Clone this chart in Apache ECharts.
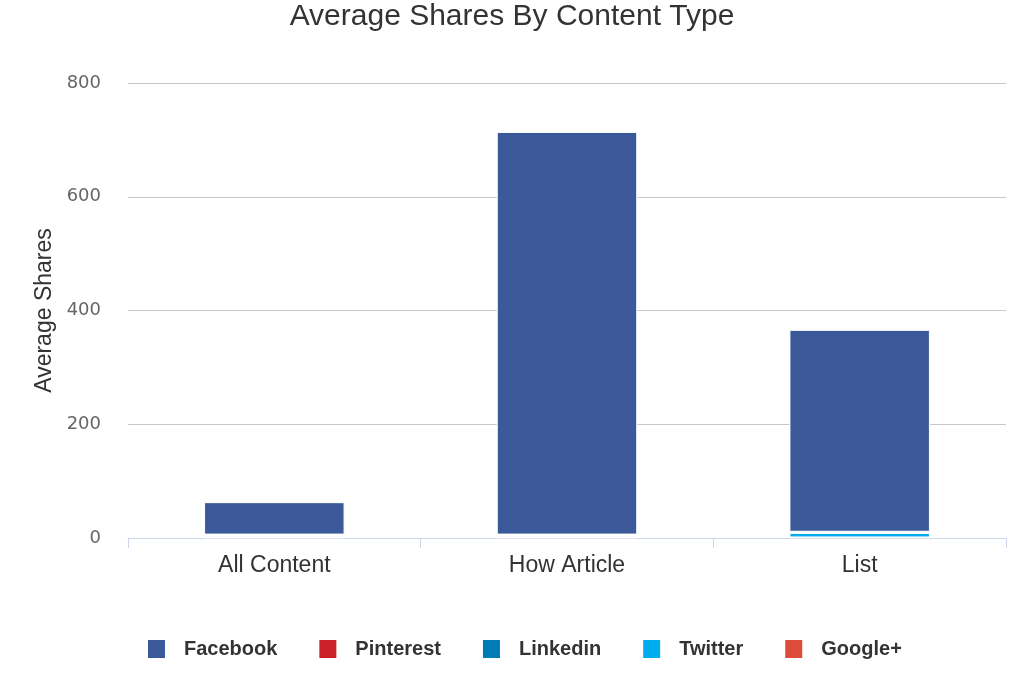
<!DOCTYPE html>
<html>
<head>
<meta charset="utf-8">
<script src="https://cdn.jsdelivr.net/npm/echarts@6/dist/echarts.min.js"></script>
<style>
html, body { margin: 0; padding: 0; background: #fff; }
#chart { width: 1024px; height: 683px; }
</style>
</head>
<body>
<div id="chart"></div>
<script>
// data
var categories = ['All Content', 'How Article', 'List'];
var facebook = [57, 708, 355];
var pinterest = [1, 1, 1];
var linkedin = [2, 2, 1];
var twitter = [2, 2, 8];
var googlePlus = [1, 1, 1];
var yTicks = [0, 200, 400, 600, 800];

var seriesColors = {
    'Facebook': '#3b5998',
    'Pinterest': '#cb2027',
    'Linkedin': '#007bb6',
    'Twitter': '#00aced',
    'Google+': '#dd4b39'
};

function bar(name, data) {
    return {
        name: name,
        type: 'bar',
        stack: 'shares',
        barWidth: '48%',
        data: data,
        itemStyle: {
            color: seriesColors[name],
            borderColor: '#fff',
            borderWidth: 1
        }
    };
}

var option = {
    backgroundColor: '#fff',
    animation: false,
    title: {
        text: 'Average Shares By Content Type',
        left: 'center',
        top: -3,
        textStyle: {
            fontFamily: 'Liberation Sans',
            fontSize: 30,
            fontWeight: 'normal',
            color: '#333'
        }
    },
    legend: {
        data: ['Facebook', 'Pinterest', 'Linkedin', 'Twitter', 'Google+'],
        bottom: 18,
        left: 141,
        itemWidth: 19,
        itemHeight: 20,
        itemGap: 40,
        icon: 'rect',
        textStyle: {
            fontFamily: 'Liberation Sans',
            fontSize: 20,
            fontWeight: 'bold',
            color: '#333',
            padding: [0, 0, 0, 13]
        }
    },
    grid: {
        left: 128,
        right: 18,
        top: 83,
        bottom: 145
    },
    xAxis: {
        type: 'category',
        data: categories,
        axisLine: { lineStyle: { color: '#ccd6eb' } },
        axisTick: { show: true, length: 10, lineStyle: { color: '#ccd6eb' } },
        axisLabel: {
            fontFamily: 'Liberation Sans',
            fontSize: 23,
            color: '#333',
            margin: 16
        }
    },
    yAxis: {
        type: 'value',
        min: yTicks[0],
        max: yTicks[yTicks.length - 1],
        interval: 200,
        name: 'Average Shares',
        nameLocation: 'middle',
        nameGap: 72,
        nameTextStyle: {
            fontFamily: 'Liberation Sans',
            fontSize: 23,
            color: '#333'
        },
        axisLine: { show: false },
        axisTick: { show: false },
        axisLabel: {
            fontFamily: 'DejaVu Sans',
            fontSize: 18,
            color: '#666',
            margin: 27
        },
        splitLine: { lineStyle: { color: '#c8c8c8' } }
    },
    series: [
        bar('Google+', googlePlus),
        bar('Twitter', twitter),
        bar('Linkedin', linkedin),
        bar('Pinterest', pinterest),
        bar('Facebook', facebook)
    ]
};

var chart = echarts.init(document.getElementById('chart'));
chart.setOption(option);
</script>
</body>
</html>
